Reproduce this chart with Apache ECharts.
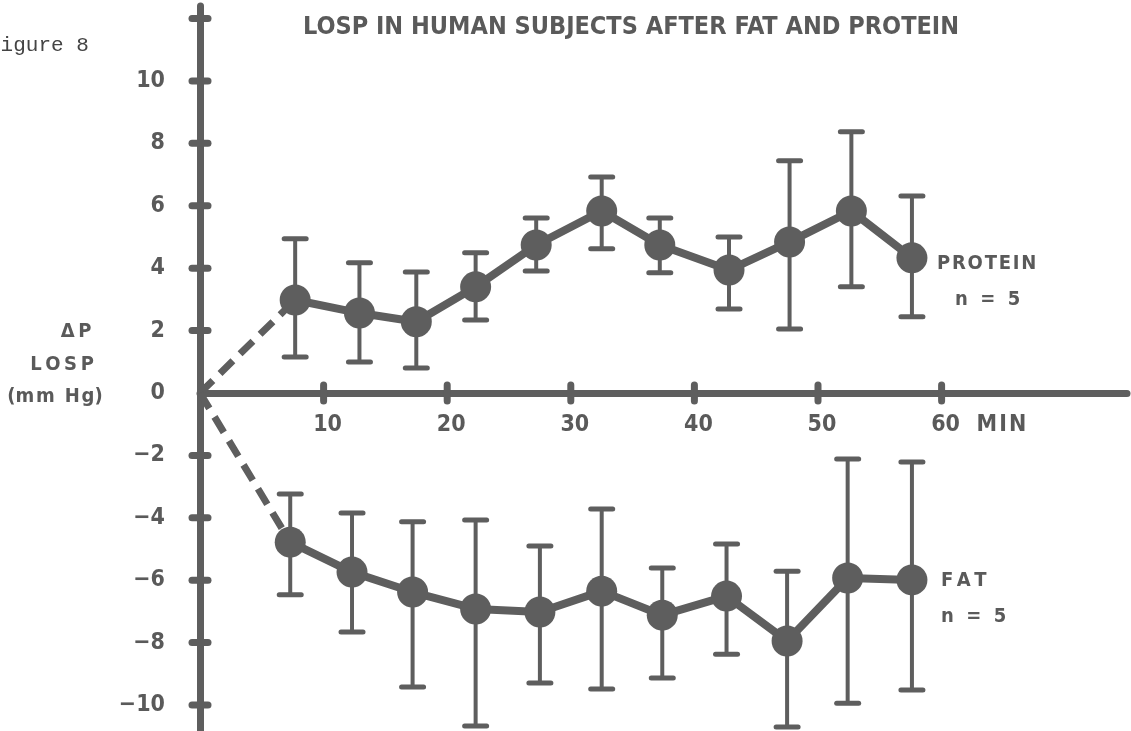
<!DOCTYPE html>
<html>
<head>
<meta charset="utf-8">
<script src="https://cdn.jsdelivr.net/npm/echarts@6/dist/echarts.min.js"></script>
<style>
html,body{margin:0;padding:0;background:#fff;}
#chart{width:1131px;height:731px;}
</style>
</head>
<body>
<div id="chart"></div>
<script>
// ---- data ----
const title = 'LOSP IN HUMAN SUBJECTS AFTER FAT AND PROTEIN';
const yTickLabels = [-10, -8, -6, -4, -2, 0, 2, 4, 6, 8, 10];
const yTickMarks = [-10, -8, -6, -4, -2, 2, 4, 6, 8, 10, 12];
const xTickLabels = [10, 20, 30, 40, 50, 60];

const protTime = [7.7, 12.9, 17.5, 22.3, 27.2, 32.5, 37.2, 42.8, 47.7, 52.7, 57.6];
const protMean = [2.98, 2.56, 2.28, 3.40, 4.74, 5.83, 4.74, 3.94, 4.84, 5.83, 4.33];
const protHigh = [4.94, 4.17, 3.88, 4.49, 5.61, 6.92, 5.61, 5.00, 7.44, 8.37, 6.31];
const protLow  = [1.15, 0.99, 0.80, 2.34, 3.91, 4.62, 3.85, 2.69, 2.05, 3.40, 2.44];

const fatTime = [7.3, 12.3, 17.2, 22.3, 27.5, 32.5, 37.4, 42.6, 47.5, 52.4, 57.6];
const fatMean = [-4.78, -5.74, -6.38, -6.92, -7.02, -6.35, -7.12, -6.51, -7.95, -5.93, -5.99];
const fatHigh = [-3.24, -3.85, -4.13, -4.07, -4.90, -3.72, -5.61, -4.84, -5.71, -2.12, -2.21];
const fatLow  = [-6.47, -7.66, -9.42, -10.67, -9.29, -9.49, -9.13, -8.37, -10.70, -9.94, -9.52];

const origin = [0, 0];

// ---- styling ----
const INK = '#5e5e5e';
const TXT = '#5a5a5a';
const COND = '"DejaVu Sans Condensed", "Liberation Sans Narrow", sans-serif';
const TS = '\u2009'; // thin space
const HS = '\u200A'; // hair space

const chart = echarts.init(document.getElementById('chart'), null, {renderer: 'canvas'});

function pairs(xs, ys) { return xs.map((x, i) => [x, ys[i]]); }
function errData(xs, lo, hi) { return xs.map((x, i) => [x, lo[i], hi[i]]); }
function spaced(s, sep) { return s.split('').join(sep || TS); }

function errRender(params, api) {
  const x = api.value(0);
  const lo = api.coord([x, api.value(1)]);
  const hi = api.coord([x, api.value(2)]);
  const cap = 11;
  return {
    type: 'group',
    children: [
      {type: 'line', shape: {x1: lo[0], y1: lo[1], x2: hi[0], y2: hi[1]}, style: {stroke: INK, lineWidth: 4}},
      {type: 'line', shape: {x1: lo[0] - cap, y1: lo[1], x2: lo[0] + cap, y2: lo[1]}, style: {stroke: INK, lineWidth: 5, lineCap: 'round'}},
      {type: 'line', shape: {x1: hi[0] - cap, y1: hi[1], x2: hi[0] + cap, y2: hi[1]}, style: {stroke: INK, lineWidth: 5, lineCap: 'round'}}
    ]
  };
}

// x ticks: bump crossing the axis line plus its label below
function xTickRender(params, api) {
  const v = api.value(0);
  const p = api.coord([v, 0]);
  return {
    type: 'group',
    children: [
      {type: 'line', shape: {x1: p[0], y1: p[1] - 8, x2: p[0], y2: p[1] + 8},
       style: {stroke: INK, lineWidth: 7, lineCap: 'round'}},
      {type: 'text', x: p[0] + 4, y: p[1] + 32,
       style: {text: String(v), fill: TXT, fontFamily: COND, fontWeight: 'bold', fontSize: 23,
                align: 'center', verticalAlign: 'middle'}}
    ]
  };
}
function yTickRender(params, api) {
  const p = api.coord([0, api.value(0)]);
  return {type: 'line', shape: {x1: p[0] - 8, y1: p[1], x2: p[0] + 8, y2: p[1]},
          style: {stroke: INK, lineWidth: 7, lineCap: 'round'}};
}

const yMin = -10.8, yMax = 12.4, xMin = 0, xMax = 75;

const option = {
  backgroundColor: '#ffffff',
  animation: false,
  grid: {left: 200, top: 6, width: 927, height: 724, containLabel: false, outerBoundsMode: 'none'},
  xAxis: {
    type: 'value', min: xMin, max: xMax,
    axisLine: {onZero: true, lineStyle: {color: INK, width: 7, cap: 'round'}},
    axisTick: {show: false},
    axisLabel: {show: false},
    splitLine: {show: false}
  },
  yAxis: {
    type: 'value', min: yMin, max: yMax,
    axisLine: {onZero: true, lineStyle: {color: INK, width: 7, cap: 'round'}},
    axisTick: {show: false},
    axisLabel: {
      customValues: yTickLabels,
      fontFamily: COND, fontWeight: 'bold', fontSize: 23, color: TXT, margin: 35,
      formatter: v => (v < 0 ? '\u2212' + Math.abs(v) : String(v))
    },
    splitLine: {show: false}
  },
  series: [
    {type: 'custom', data: xTickLabels.map(v => [v]), renderItem: xTickRender, encode: {x: 0}, z: 1, silent: true},
    {type: 'custom', data: yTickMarks.map(v => [v]), renderItem: yTickRender, encode: {y: 0}, z: 1, silent: true},
    {
      type: 'line', data: [origin, [protTime[0], protMean[0]]], symbol: 'none',
      lineStyle: {color: INK, width: 7, type: [18, 10]}, z: 2
    },
    {
      type: 'line', data: [origin, [fatTime[0], fatMean[0]]], symbol: 'none',
      lineStyle: {color: INK, width: 7, type: [18, 10]}, z: 2
    },
    {
      type: 'custom', data: errData(protTime, protLow, protHigh), renderItem: errRender, z: 3,
      encode: {x: 0, y: [1, 2]}
    },
    {
      type: 'custom', data: errData(fatTime, fatLow, fatHigh), renderItem: errRender, z: 3,
      encode: {x: 0, y: [1, 2]}
    },
    {
      type: 'line', data: pairs(protTime, protMean), symbol: 'circle', symbolSize: 31,
      lineStyle: {color: INK, width: 8}, itemStyle: {color: INK}, z: 4
    },
    {
      type: 'line', data: pairs(fatTime, fatMean), symbol: 'circle', symbolSize: 31,
      lineStyle: {color: INK, width: 8}, itemStyle: {color: INK}, z: 4
    }
  ]
};

chart.setOption(option);

// text annotations positioned through the chart's scales
const n = protTime.length;
const pProt = chart.convertToPixel({gridIndex: 0}, [protTime[n - 1], protMean[n - 1]]);
const pFat = chart.convertToPixel({gridIndex: 0}, [fatTime[n - 1], fatMean[n - 1]]);
const p60 = chart.convertToPixel({gridIndex: 0}, [60, 0]);
const p0 = chart.convertToPixel({gridIndex: 0}, [0, 0]);

const labStyle = (extra) => Object.assign({fill: TXT, fontFamily: COND, fontWeight: 'bold', fontSize: 20, textVerticalAlign: 'middle'}, extra);

chart.setOption({
  graphic: [
    {type: 'text', x: 631, y: 27, style: labStyle({text: title, fontSize: 25, textAlign: 'center'})},
    {type: 'text', x: -12, y: 45, style: {text: 'Figure 8', fill: '#444', fontFamily: '"Liberation Mono", monospace', fontSize: 21, textVerticalAlign: 'middle'}},
    {type: 'text', x: p0[0] - 124, y: p0[1] - 61, style: labStyle({text: '\u0394\u2009P', textAlign: 'center'})},
    {type: 'text', x: p0[0] - 138, y: p0[1] - 28, style: labStyle({text: spaced('LOSP', TS), textAlign: 'center'})},
    {type: 'text', x: p0[0] - 145, y: p0[1] + 4, style: labStyle({text: '(m' + HS + 'm ' + TS + 'H' + HS + 'g)', textAlign: 'center'})},
    {type: 'text', x: p60[0] + 35, y: p60[1] + 32, style: labStyle({text: spaced('MIN', HS), fontSize: 23})},
    {type: 'text', x: pProt[0] + 25, y: pProt[1] + 6, style: labStyle({text: spaced('PROTEIN', HS)})},
    {type: 'text', x: pProt[0] + 43, y: pProt[1] + 42, style: labStyle({text: 'n  =  5'})},
    {type: 'text', x: pFat[0] + 29, y: pFat[1] + 1, style: labStyle({text: spaced('FAT')})},
    {type: 'text', x: pFat[0] + 29, y: pFat[1] + 37, style: labStyle({text: 'n  =  5'})}
  ]
});
</script>
</body>
</html>
